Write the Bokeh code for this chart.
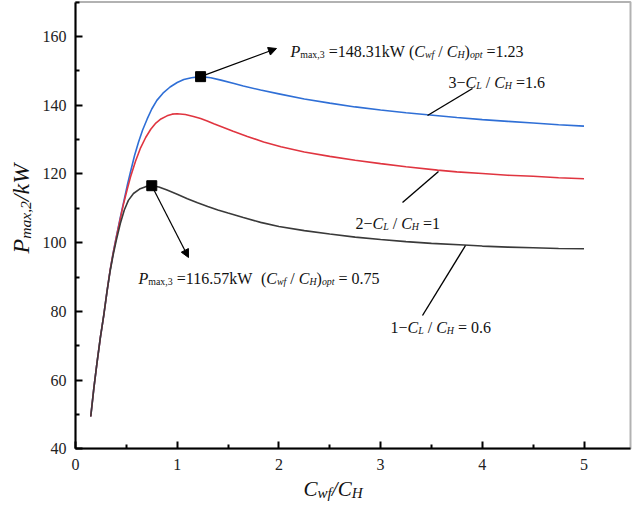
import math
from bokeh.plotting import figure
from bokeh.models import Label, Arrow, NormalHead, Range1d, FixedTicker, BoxAnnotation
from bokeh.embed import file_html
from bokeh.resources import INLINE

# ---------------- data ----------------
# curve 3: C_L/C_H = 1.6 (blue)
x_r16 = [0.15, 0.18, 0.21, 0.245, 0.28, 0.31, 0.34, 0.37, 0.40, 0.44, 0.475, 0.51, 0.54,
         0.58, 0.62, 0.66, 0.705, 0.75, 0.80, 0.86, 0.93, 1.0, 1.065, 1.14, 1.23, 1.33,
         1.43, 1.55, 1.65, 1.82, 2.0, 2.25, 2.5, 2.75, 3.0, 3.25, 3.46, 3.75, 4.0, 4.25,
         4.5, 4.75, 5.0]
y_r16 = [49.4, 57.5, 64.7, 72.5, 79.3, 85.8, 91.9, 97.0, 101.5, 107.3, 112.0, 116.8, 120.5,
         125.3, 129.3, 132.8, 136.0, 138.9, 141.4, 143.5, 145.3, 146.6, 147.5, 148.0, 148.31,
         148.0, 147.3, 146.4, 145.6, 144.4, 143.3, 141.8, 140.6, 139.5, 138.6, 137.8, 137.2,
         136.4, 135.8, 135.3, 134.8, 134.3, 133.9]
# curve 2: C_L/C_H = 1 (red)
x_r10 = [0.15, 0.18, 0.21, 0.245, 0.28, 0.31, 0.34, 0.37, 0.40, 0.44, 0.47, 0.51, 0.54,
         0.59, 0.64, 0.69, 0.74, 0.79, 0.84, 0.90, 0.95, 1.0, 1.08, 1.16, 1.23, 1.295,
         1.36, 1.43, 1.55, 1.69, 1.85, 2.02, 2.25, 2.5, 2.75, 3.0, 3.25, 3.56, 3.75, 4.0,
         4.25, 4.5, 4.75, 5.0]
y_r10 = [49.4, 57.5, 64.7, 72.5, 79.3, 85.8, 91.9, 96.9, 101.3, 106.9, 111.0, 115.7, 119.0,
         123.7, 127.6, 130.6, 133.0, 134.8, 136.0, 136.9, 137.4, 137.5, 137.3, 136.7, 136.1,
         135.4, 134.6, 133.8, 132.4, 130.9, 129.3, 127.9, 126.4, 125.1, 124.0, 123.0, 122.1,
         121.1, 120.6, 120.1, 119.6, 119.3, 118.9, 118.6]
# curve 1: C_L/C_H = 0.6 (black)
x_r06 = [0.15, 0.18, 0.21, 0.245, 0.28, 0.31, 0.34, 0.37, 0.40, 0.44, 0.48, 0.52, 0.57,
         0.63, 0.69, 0.75, 0.82, 0.90, 1.0, 1.1, 1.2, 1.3, 1.4, 1.5, 1.65, 1.82, 2.0, 2.25,
         2.5, 2.75, 3.0, 3.25, 3.5, 3.82, 4.0, 4.25, 4.5, 4.75, 5.0]
y_r06 = [49.4, 57.5, 64.7, 72.5, 79.3, 85.8, 91.6, 96.4, 100.5, 105.5, 109.5, 112.3, 114.3,
         115.6, 116.3, 116.57, 116.2, 115.3, 114.1, 112.8, 111.6, 110.5, 109.5, 108.6, 107.3,
         105.9, 104.7, 103.5, 102.5, 101.6, 100.9, 100.3, 99.8, 99.3, 99.0, 98.7, 98.5, 98.3,
         98.2]
# optimum points
peak_x = [0.75, 1.23]
peak_y = [116.57, 148.31]
# ticks
x_ticks = [0, 1, 2, 3, 4, 5]
y_ticks = [40, 60, 80, 100, 120, 140, 160]

# ---------------- layout ----------------
W, H = 632, 502
SX, SY = 101.7, 3.436            # px per data unit
PX0, PY40 = 75.0, 448.3           # canvas position of x=0 and y=40
# the frame covers the whole canvas
XA = -PX0 / SX
XB = (W - PX0) / SX
YA = 40 - (H - PY40) / SY
YB = 40 + PY40 / SY


def dx(px):
    return (px - PX0) / SX


def dy(py):
    return 40 + (PY40 - py) / SY


FONT = "Liberation Serif"

p = figure(width=W, height=H, x_range=Range1d(XA, XB), y_range=Range1d(YA, YB),
           output_backend="svg", toolbar_location=None,
           min_border_left=0, min_border_right=0, min_border_top=0, min_border_bottom=0)
p.background_fill_color = "white"
p.border_fill_color = "white"
p.outline_line_color = None
p.xgrid.visible = False
p.ygrid.visible = False

p.xaxis.ticker = FixedTicker(ticks=x_ticks, minor_ticks=[t + 0.5 for t in x_ticks])
p.yaxis.ticker = FixedTicker(ticks=y_ticks, minor_ticks=[t + 10 for t in y_ticks])
p.xaxis.fixed_location = 40
p.yaxis.fixed_location = 0
p.xaxis.bounds = (0, dx(630))
p.yaxis.bounds = (40, dy(1.5))
for ax in (p.xaxis, p.yaxis):
    ax.axis_line_width = 2
    ax.axis_line_color = "black"
    ax.major_tick_in = 7
    ax.major_tick_out = 0
    ax.minor_tick_in = 4
    ax.minor_tick_out = 0
    ax.major_tick_line_width = 2
    ax.minor_tick_line_width = 2
    ax.major_tick_line_color = "black"
    ax.minor_tick_line_color = "black"
    ax.major_label_text_font = FONT
    ax.major_label_text_font_size = "16px"
    ax.major_label_text_color = "#222222"
p.xaxis.major_label_standoff = 10
p.yaxis.major_label_standoff = 9

# plot box (right and top edges)
p.add_layout(BoxAnnotation(left=0, right=dx(630), bottom=40, top=dy(1.5),
                           fill_alpha=0, line_color="black", line_width=2))

# curves
p.line(x_r16, y_r16, line_color="#2f6fd6", line_width=1.6)
p.line(x_r10, y_r10, line_color="#e03540", line_width=1.6)
p.line(x_r06, y_r06, line_color="#3a3a3a", line_width=1.6)

# arrows from optimum points
p.add_layout(Arrow(end=NormalHead(size=8, fill_color="black", line_color="black"),
                   x_start=peak_x[1], y_start=peak_y[1], x_end=dx(276), y_end=dy(48),
                   line_color="black", line_width=1.2))
p.add_layout(Arrow(end=NormalHead(size=8, fill_color="black", line_color="black"),
                   x_start=peak_x[0], y_start=peak_y[0], x_end=dx(188), y_end=dy(257),
                   line_color="black", line_width=1.2))
p.scatter(peak_x, peak_y, marker="square", size=10, color="black")

# leader lines
p.segment(x0=[dx(427), dx(438), dx(465)], y0=[dy(115), dy(171), dy(245)],
          x1=[dx(472), dx(402), dx(422)], y1=[dy(88), dy(202), dy(315)],
          line_color="black", line_width=1.4)

# ---------------- rich text ----------------
UP = {'P': .556, 'm': .778, 'a': .444, 'x': .5, ',': .25, ' ': .25, '=': .564, '.': .25,
      'k': .5, 'W': .944, '(': .333, ')': .333, 'C': .667, 'w': .722, 'f': .333, '/': .278,
      'H': .722, 'o': .5, 'p': .5, 't': .278, '−': .564, 'L': .611}
IT = {'P': .611, 'm': .722, 'a': .5, 'x': .444, ',': .25, ' ': .25, '=': .675, '.': .25,
      'k': .444, 'W': .833, '(': .333, ')': .333, 'C': .667, 'w': .667, 'f': .278, '/': .278,
      'H': .722, 'o': .5, 'p': .5, 't': .278, '−': .675, 'L': .556}


def tw(txt, ital):
    t = IT if ital else UP
    return sum(t.get(c, .5) for c in txt)


def rich(px, py, parts, size, angle=0.0, sub=0.62, drop=0.2, color="#111111"):
    adv = 0.0
    for txt, st in parts:
        is_sub = st.startswith('s')
        ital = st.endswith('i')
        fs = size * sub if is_sub else size
        d = drop * size if is_sub else 0.0
        lead = len(txt) - len(txt.lstrip(' '))
        core = txt.strip(' ')
        trail = len(txt) - len(txt.rstrip(' '))
        adv += lead * 0.25 * fs
        if core:
            if angle == 0:
                xo, yo = adv, -d
            else:
                xo, yo = d, adv
            p.add_layout(Label(x=dx(px), y=dy(py), x_offset=xo, y_offset=yo, text=core,
                               text_font=FONT, text_font_style="italic" if ital else "normal",
                               text_font_size=f"{fs:.1f}px", angle=angle,
                               text_align="left", text_baseline="alphabetic",
                               text_color=color))
            adv += tw(core, ital) * fs
        adv += trail * 0.25 * fs


AS = 16
rich(290, 51, [("P", "i"), ("max,3", "sn"), (" =148.31kW", "n"), (" (", "n"), ("C", "i"),
               ("wf", "si"), (" / ", "n"), ("C", "i"), ("H", "si"), (")", "n"), ("opt", "si"),
               (" =1.23", "n")], AS)
rich(138, 278, [("P", "i"), ("max,3", "sn"), (" =116.57kW", "n"), ("  (", "n"), ("C", "i"),
                ("wf", "si"), (" / ", "n"), ("C", "i"), ("H", "si"), (")", "n"), ("opt", "si"),
                (" = 0.75", "n")], AS)
rich(448, 81.5, [("3−", "n"), ("C", "i"), ("L", "si"), (" / ", "n"), ("C", "i"), ("H", "si"),
                 (" =1.6", "n")], AS)
rich(355, 223, [("2−", "n"), ("C", "i"), ("L", "si"), (" / ", "n"), ("C", "i"), ("H", "si"),
                (" =1", "n")], AS)
rich(390, 326.5, [("1−", "n"), ("C", "i"), ("L", "si"), (" / ", "n"), ("C", "i"), ("H", "si"),
                  (" = 0.6", "n")], AS)

# axis titles
rich(303, 488, [("C", "i"), ("wf", "si"), ("/", "i"), ("C", "i"), ("H", "si")], 21,
     sub=0.72, drop=0.22)
rich(20, 253, [("P", "i"), ("max,2", "si"), ("/kW", "i")], 24, angle=math.pi / 2,
     sub=0.65, drop=0.2)

open("out.html", "w").write(file_html(p, INLINE))
